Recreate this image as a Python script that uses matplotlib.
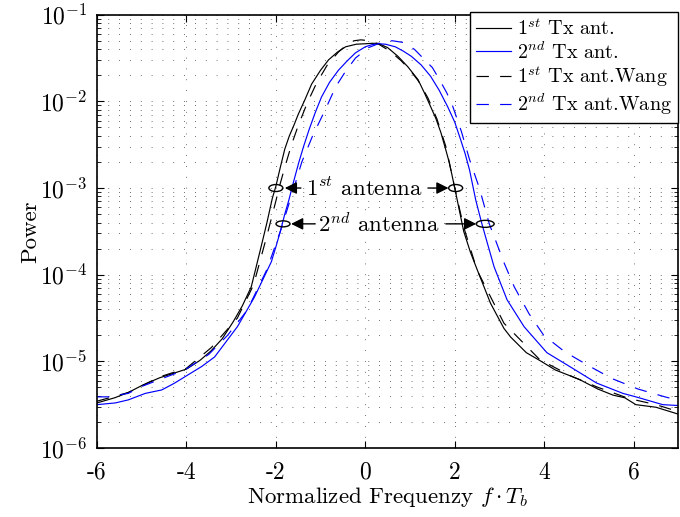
import numpy as np
import matplotlib
matplotlib.use("Agg")
import matplotlib.pyplot as plt
from matplotlib.patches import Ellipse
from matplotlib.transforms import ScaledTranslation
from matplotlib.ticker import NullFormatter, LogLocator

plt.rcParams['font.family'] = ['cmr10', 'DejaVu Serif']
plt.rcParams['mathtext.fontset'] = 'cm'
plt.rcParams['axes.unicode_minus'] = False
plt.rcParams['axes.formatter.use_mathtext'] = True

# 1st Tx ant. (log10 of power)
x_tx1 = [-6.0, -5.6, -5.3, -5.0, -4.6, -4.3, -4.0, -3.7, -3.45, -3.2, -2.95, -2.75,
         -2.55, -2.35, -2.2, -2.08, -2.0, -1.9, -1.8, -1.7, -1.6, -1.5, -1.35, -1.2,
         -1.0, -0.82, -0.62, -0.44, -0.2, 0.0, 0.15, 0.29, 0.5, 0.73, 0.95, 1.18,
         1.32, 1.46, 1.58, 1.69, 1.8, 1.88, 2.0, 2.1, 2.2, 2.35, 2.5, 2.8, 3.1,
         3.25, 3.6, 3.9, 4.25, 4.79, 5.2, 5.54, 5.8, 6.05, 6.5, 6.94, 7.0]
lp_tx1 = [-5.48, -5.42, -5.36, -5.28, -5.19, -5.14, -5.09, -4.99, -4.88, -4.74, -4.54, -4.36,
          -4.14, -3.72, -3.40, -3.12, -2.98, -2.76, -2.55, -2.40, -2.28, -2.15, -1.98, -1.80,
          -1.64, -1.52, -1.43, -1.37, -1.34, -1.335, -1.33, -1.33, -1.38, -1.48, -1.60, -1.75,
          -1.90, -2.06, -2.20, -2.36, -2.56, -2.71, -3.0, -3.25, -3.50, -3.74, -3.94, -4.33, -4.62,
          -4.72, -4.90, -4.99, -5.10, -5.21, -5.32, -5.39, -5.42, -5.50, -5.53, -5.60, -5.61]

# 2nd Tx ant.
x_tx2 = [-6.0, -5.59, -5.3, -4.92, -4.55, -4.26, -4.04, -3.66, -3.37, -2.86, -2.48, -2.1,
         -2.0, -1.9, -1.8, -1.71, -1.6, -1.49, -1.38, -1.26, -1.12, -0.98, -0.8, -0.6,
         -0.4, -0.22, 0.0, 0.15, 0.29, 0.45, 0.67, 0.85, 1.03, 1.25, 1.46, 1.65,
         1.84, 2.0, 2.13, 2.23, 2.33, 2.47, 2.6, 2.72, 2.88, 3.17, 3.55, 4.06,
         4.57, 5.17, 5.76, 6.05, 6.65, 7.0]
lp_tx2 = [-5.50, -5.48, -5.445, -5.37, -5.33, -5.25, -5.18, -5.06, -4.95, -4.60, -4.26, -3.85,
          -3.68, -3.50, -3.30, -3.14, -2.92, -2.71, -2.52, -2.33, -2.13, -1.95, -1.78, -1.64,
          -1.53, -1.44, -1.37, -1.345, -1.335, -1.34, -1.37, -1.42, -1.48, -1.58, -1.71, -1.87,
          -2.06, -2.24, -2.44, -2.60, -2.79, -3.14, -3.40, -3.62, -3.91, -4.29, -4.60, -4.90,
          -5.06, -5.25, -5.37, -5.41, -5.50, -5.51]

# 1st Tx ant.Wang
x_w1 = [-6.0, -5.3, -4.6, -4.0, -3.44, -2.86, -2.5, -2.2, -2.0, -1.93, -1.8, -1.65,
        -1.5, -1.3, -1.1, -0.85, -0.6, -0.4, -0.25, -0.1, 0.1, 0.3, 0.55, 0.8,
        1.0, 1.18, 1.4, 1.6, 1.8, 2.0, 2.2, 2.5, 3.1, 3.9, 4.6, 5.2, 5.9, 6.5, 7.0]
lp_w1 = [-5.46, -5.36, -5.18, -5.08, -4.84, -4.50, -4.12, -3.55, -3.15, -3.0, -2.76, -2.50,
         -2.28, -2.02, -1.80, -1.58, -1.43, -1.34, -1.30, -1.29, -1.30, -1.34, -1.42, -1.53,
         -1.64, -1.76, -1.96, -2.20, -2.52, -3.0, -3.45, -3.95, -4.56, -4.98, -5.17, -5.30, -5.43, -5.50, -5.58]

# 2nd Tx ant.Wang
x_w2 = [-6.0, -5.75, -5.3, -5.0, -4.55, -4.04, -3.5, -3.08, -2.64, -2.2, -1.9, -1.62,
        -1.42, -1.18, -0.89, -0.66, -0.45, -0.22, 0.07, 0.36, 0.6, 0.85, 1.1, 1.29,
        1.5, 1.66, 1.82, 1.95, 2.15, 2.33, 2.55, 2.77, 2.91, 3.1, 3.33, 3.66,
        3.99, 4.46, 4.99, 5.52, 6.1, 6.7, 7.0]
lp_w2 = [-5.41, -5.41, -5.37, -5.29, -5.20, -5.10, -4.92, -4.70, -4.41, -3.94, -3.50, -3.04,
         -2.70, -2.40, -2.09, -1.83, -1.66, -1.50, -1.38, -1.32, -1.30, -1.32, -1.40, -1.50,
         -1.61, -1.75, -1.90, -2.05, -2.35, -2.67, -3.0, -3.41, -3.60, -3.86, -4.14, -4.45,
         -4.70, -4.89, -5.05, -5.20, -5.32, -5.41, -5.45]

xtick_vals = [-6, -4, -2, 0, 2, 4, 6]
xtick_labels = ['-6', '-4', '-2', '0', '2', '4', '6']
ytick_vals = [1e-6, 1e-5, 1e-4, 1e-3, 1e-2, 1e-1]
ytick_labels = [r'$10^{-6}$', r'$10^{-5}$', r'$10^{-4}$', r'$10^{-3}$', r'$10^{-2}$', r'$10^{-1}$']

# ellipse markers: centre x, centre y, width px, height px
ell_x = [-2.0, 2.02, -1.84, 2.68]
ell_y = [1e-3, 1e-3, 3.86e-4, 3.86e-4]
ell_w = [14, 14, 14, 18]
ell_h = [7, 7, 6, 7]

# annotation text and arrows (tail x, tip x)
ann_text = [r'$1^{st}$ antenna', r'$2^{nd}$ antenna']
ann_tx = [-0.02, 0.31]
ann_ty = [1e-3, 3.86e-4]
arr_tail = [[-1.44, 1.40], [-1.12, 1.80]]
arr_tip = [[-1.80, 1.86], [-1.66, 2.48]]

fig = plt.figure(figsize=(6.8, 5.17), dpi=100)
ax = fig.add_axes([0.1426, 0.1335, 0.855, 0.838])

lw = 0.85
dash = (10.5, 9.5)
ax.plot(x_tx1, 10 ** np.array(lp_tx1), color='k', lw=lw, label=r'$1^{st}$ Tx ant.')
ax.plot(x_tx2, 10 ** np.array(lp_tx2), color='b', lw=lw, label=r'$2^{nd}$ Tx ant.')
ax.plot(x_w1, 10 ** np.array(lp_w1), color='k', lw=lw, dashes=dash, label=r'$1^{st}$ Tx ant.Wang')
ax.plot(x_w2, 10 ** np.array(lp_w2), color='b', lw=lw, dashes=dash, label=r'$2^{nd}$ Tx ant.Wang')

ax.set_yscale('log')
ax.set_xlim(-6, 7)
ax.set_ylim(1e-6, 1e-1)
ax.set_xticks(xtick_vals, xtick_labels)
ax.set_yticks(ytick_vals, ytick_labels)
ax.yaxis.set_minor_locator(LogLocator(base=10, subs=np.arange(2, 10), numticks=20))
ax.yaxis.set_minor_formatter(NullFormatter())

ax.grid(True, which='major', axis='both', color='0.25', lw=0.6, linestyle=(0, (1, 12)))
ax.grid(True, which='minor', axis='y', color='0.25', lw=0.6, linestyle=(0, (1, 12)))
ax.tick_params(which='both', direction='in', top=True, right=True, labelsize=17)
ax.tick_params(which='major', length=5, width=0.8)
ax.tick_params(which='minor', length=3, width=0.6)
ax.tick_params(axis='x', pad=10)
ax.tick_params(axis='y', pad=7)
for s in ax.spines.values():
    s.set_linewidth(1.2)

ax.set_xlabel(r'Normalized Frequenzy $f\cdot T_b$', fontsize=16.5, labelpad=1)
ax.set_ylabel('Power', fontsize=16.5, labelpad=0)

for i in range(len(ell_x)):
    tr = fig.dpi_scale_trans + ScaledTranslation(ell_x[i], ell_y[i], ax.transData)
    e = Ellipse((0, 0), ell_w[i] / 100, ell_h[i] / 100, transform=tr,
                fill=False, edgecolor='k', lw=1.0, zorder=5)
    ax.add_patch(e)

for i in range(len(ann_text)):
    ax.text(ann_tx[i], ann_ty[i], ann_text[i], fontsize=16.5, ha='center', va='center',
            bbox=dict(facecolor='white', edgecolor='none', pad=0.5))
    for j in range(2):
        ax.annotate('', xy=(arr_tip[i][j], ann_ty[i]), xytext=(arr_tail[i][j], ann_ty[i]),
                    arrowprops=dict(arrowstyle='-|>,head_length=0.6,head_width=0.3',
                                    color='k', lw=1.0, mutation_scale=12,
                                    shrinkA=0, shrinkB=0))

leg = ax.legend(loc='upper right', bbox_to_anchor=(1.0, 1.006), borderaxespad=0,
                fontsize=14.5, fancybox=False, framealpha=1, edgecolor='k',
                handlelength=1.75, handletextpad=0.3, labelspacing=0.1, borderpad=0.3)
leg.get_frame().set_linewidth(1.0)

fig.savefig('out.png', dpi=100)
